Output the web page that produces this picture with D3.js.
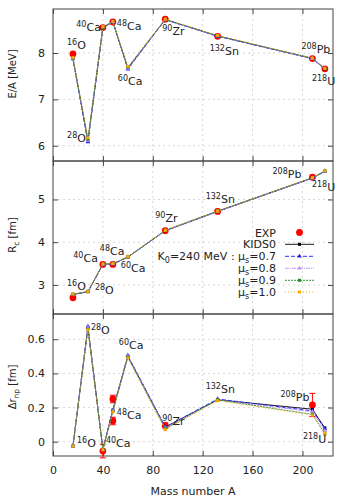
<!DOCTYPE html>
<html>
<head>
<meta charset="utf-8">
<script src="https://d3js.org/d3.v7.min.js"></script>
<style>
  body { margin: 0; background: #fff; }
  text { font-family: "DejaVu Sans", sans-serif; fill: #222; }
</style>
</head>
<body>
<div id="chart"></div>
<script>
// nuclei
var massA = [16, 28, 40, 48, 60, 90, 132, 208, 218];
var massLabel = ["16", "28", "40", "48", "60", "90", "132", "208", "218"];
var element = ["O", "O", "Ca", "Ca", "Ca", "Zr", "Sn", "Pb", "U"];

// binding energy per nucleon, E/A [MeV]
var eaExpA = [16, 40, 48, 90, 132, 208, 218];
var eaExp = [7.98, 8.55, 8.67, 8.73, 8.36, 7.88, 7.66];
var eaKids0 = [7.88, 6.10, 8.55, 8.67, 7.67, 8.72, 8.37, 7.88, 7.66];
var eaMu07 = [7.87, 6.08, 8.55, 8.67, 7.65, 8.72, 8.36, 7.88, 7.66];
var eaMu08 = [7.88, 6.11, 8.56, 8.67, 7.67, 8.72, 8.37, 7.88, 7.66];
var eaMu09 = [7.89, 6.14, 8.56, 8.68, 7.69, 8.73, 8.37, 7.89, 7.66];
var eaMu10 = [7.90, 6.17, 8.57, 8.68, 7.71, 8.73, 8.38, 7.89, 7.67];

// charge radius, Rc [fm]
var rcExpA = [16, 40, 48, 90, 132, 208];
var rcExp = [2.70, 3.48, 3.48, 4.27, 4.72, 5.52];
var rcKids0 = [2.78, 2.84, 3.48, 3.49, 3.65, 4.27, 4.72, 5.50, 5.66];
var rcMu07 = [2.77, 2.84, 3.48, 3.49, 3.65, 4.27, 4.72, 5.50, 5.66];
var rcMu08 = [2.78, 2.84, 3.48, 3.49, 3.65, 4.27, 4.72, 5.50, 5.66];
var rcMu09 = [2.78, 2.85, 3.49, 3.50, 3.66, 4.28, 4.73, 5.51, 5.67];
var rcMu10 = [2.79, 2.85, 3.49, 3.50, 3.66, 4.28, 4.73, 5.51, 5.67];

// neutron skin, delta r_np [fm]
var skinExpA = [40, 48, 48, 90, 208];
var skinExp = [-0.055, 0.25, 0.121, 0.095, 0.215];
var skinErr = [0.04, 0.022, 0.022, 0.015, 0.068];
var skinKids0 = [-0.025, 0.670, -0.045, 0.185, 0.500, 0.085, 0.245, 0.190, 0.080];
var skinMu07 = [-0.025, 0.675, -0.045, 0.185, 0.505, 0.085, 0.250, 0.180, 0.075];
var skinMu08 = [-0.025, 0.670, -0.045, 0.180, 0.500, 0.080, 0.245, 0.175, 0.065];
var skinMu09 = [-0.026, 0.660, -0.047, 0.178, 0.495, 0.075, 0.245, 0.160, 0.045];
var skinMu10 = [-0.026, 0.655, -0.048, 0.175, 0.490, 0.070, 0.240, 0.155, 0.050];

var xTicks = [0, 40, 80, 120, 160, 200];
var muLabels = ["0.7", "0.8", "0.9", "1.0"];

var styles = [
    {color: "#000000", dash: null, shape: d3.symbolSquare},
    {color: "#1a1aff", dash: "4,2", shape: d3.symbolTriangle},
    {color: "#c48cff", dash: "4,1,1,1", shape: d3.symbolTriangle},
    {color: "#1e8c1e", dash: "2,1", shape: d3.symbolSquare},
    {color: "#ffa500", dash: "1,2", shape: d3.symbolSquare}
];

var width = 355, height = 500;
var left = 53, right = 333;

var svg = d3.select("#chart").append("svg")
    .attr("width", width)
    .attr("height", height);

var x = d3.scaleLinear().domain([0, 224.5]).range([left, right]);

// label offsets from the KIDS0 point: [dx, dy, anchor]
var panels = [
    {
        top: 9, bottom: 161, domain: [5.67, 8.95], ticks: [6, 7, 8], fmt: d3.format("d"),
        series: [eaKids0, eaMu07, eaMu08, eaMu09, eaMu10],
        expA: eaExpA, exp: eaExp, err: null,
        ylabel: [["E/A [MeV]", 0]], ylabelY: 74,
        offsets: [[-6, -10, "start"], [-2, 1, "end"], [-2, 3, "end"], [4, 8, "start"], [-10, 17, "start"],
                  [-3, 15, "start"], [-8, 19, "start"], [-11, -6, "start"], [-13, 16, "start"]]
    },
    {
        top: 161, bottom: 314, domain: [2.32, 5.9], ticks: [3, 4, 5], fmt: d3.format("d"),
        series: [rcKids0, rcMu07, rcMu08, rcMu09, rcMu10],
        expA: rcExpA, exp: rcExp, err: null,
        ylabel: [["R", 0], ["c", 1], [" [fm]", 0]], ylabelY: 235,
        offsets: [[-6, -4, "start"], [7, 2, "start"], [-5, -2, "end"], [-13, -9, "start"], [-7, 15, "start"],
                  [-10, -9, "start"], [-12, -8, "start"], [-11, 0, "end"], [-13, 20, "start"]]
    },
    {
        top: 314, bottom: 456, domain: [-0.084, 0.748], ticks: [0, 0.2, 0.4, 0.6], fmt: function(d) { return d === 0 ? "0" : d3.format(".1f")(d); },
        series: [skinKids0, skinMu07, skinMu08, skinMu09, skinMu10],
        expA: skinExpA, exp: skinExp, err: skinErr,
        ylabel: [["\u0394r", 0], ["np", 1], [" [fm]", 0]], ylabelY: 387,
        offsets: [[4, 1, "start"], [3, 7, "start"], [3, -2, "start"], [4, 9, "start"], [-9, -7, "start"],
                  [-3, -2, "start"], [-12, -7, "start"], [-3, -8, "end"], [-22, 15, "start"]]
    }
];

function addScripted(sel, parts, small) {
    // parts: [text, mode] with mode 0 normal, 1 subscript, 2 superscript
    var shift = 0;
    parts.forEach(function(p) {
        var target = p[1] === 1 ? 3 : (p[1] === 2 ? -4 : 0);
        sel.append("tspan")
            .attr("dy", target - shift)
            .style("font-size", p[1] ? (small || "8px") : null)
            .text(p[0]);
        shift = target;
    });
}

panels.forEach(function(p, pi) {
    var y = d3.scaleLinear().domain(p.domain).range([p.bottom, p.top]);
    var g = svg.append("g");

    var clipId = "clip" + pi;
    svg.append("clipPath").attr("id", clipId)
        .append("rect")
        .attr("x", left).attr("y", p.top)
        .attr("width", right - left).attr("height", p.bottom - p.top);

    // grid
    g.selectAll(".vgrid").data(xTicks.slice(1)).enter().append("line")
        .attr("x1", function(d) { return x(d); }).attr("x2", function(d) { return x(d); })
        .attr("y1", p.top).attr("y2", p.bottom)
        .attr("stroke", "#d8d8d8").attr("stroke-dasharray", "2,3");
    g.selectAll(".hgrid").data(p.ticks).enter().append("line")
        .attr("x1", left).attr("x2", right)
        .attr("y1", function(d) { return y(d); }).attr("y2", function(d) { return y(d); })
        .attr("stroke", "#d8d8d8").attr("stroke-dasharray", "2,3");

    // axes with inward ticks on all sides
    var axL = d3.axisLeft(y).tickValues(p.ticks).tickSize(-5).tickPadding(8).tickFormat(p.fmt);
    var axR = d3.axisRight(y).tickValues(p.ticks).tickSize(-5).tickFormat("");
    var axT = d3.axisTop(x).tickValues(xTicks).tickSize(-5).tickFormat("");
    var axB = d3.axisBottom(x).tickValues(xTicks).tickSize(-5).tickPadding(10)
        .tickFormat(pi === 2 ? d3.format("d") : "");
    [[axL, "translate(" + left + ",0)"], [axR, "translate(" + right + ",0)"],
     [axT, "translate(0," + p.top + ")"], [axB, "translate(0," + p.bottom + ")"]].forEach(function(a) {
        var ag = g.append("g").attr("transform", a[1]).call(a[0]);
        ag.select(".domain").remove();
        ag.selectAll("line").attr("stroke", "#444");
        ag.selectAll("text").style("font-family", "DejaVu Sans").style("font-size", "11px").attr("fill", "#222");
    });

    g.append("rect")
        .attr("x", left).attr("y", p.top)
        .attr("width", right - left).attr("height", p.bottom - p.top)
        .attr("fill", "none").attr("stroke", "#444");

    // y label
    var yl = g.append("text")
        .attr("transform", "translate(16," + p.ylabelY + ") rotate(-90)")
        .attr("text-anchor", "middle")
        .style("font-size", "10px");
    addScripted(yl, p.ylabel, "7.5px");

    // experimental points
    var ex = g.append("g");
    if (p.err) {
        p.expA.forEach(function(a, i) {
            var y0 = y(p.exp[i] - p.err[i]), y1 = y(p.exp[i] + p.err[i]);
            ex.append("line").attr("x1", x(a)).attr("x2", x(a)).attr("y1", y0).attr("y2", y1)
                .attr("stroke", "red");
            [y0, y1].forEach(function(yy) {
                if (yy <= p.bottom + 4) {
                    ex.append("line").attr("x1", x(a) - 3).attr("x2", x(a) + 3)
                        .attr("y1", yy).attr("y2", yy).attr("stroke", "red");
                }
            });
        });
    }
    ex.selectAll("circle").data(p.exp).enter().append("circle")
        .attr("cx", function(d, i) { return x(p.expA[i]); })
        .attr("cy", function(d) { return y(d); })
        .attr("r", 3.4)
        .attr("fill", "red");

    // model series
    var line = d3.line()
        .x(function(d, i) { return x(massA[i]); })
        .y(function(d) { return y(d); });
    var mg = g.append("g").attr("clip-path", "url(#" + clipId + ")");
    p.series.forEach(function(s, si) {
        var st = styles[si];
        mg.append("path").datum(s)
            .attr("d", line)
            .attr("fill", "none")
            .attr("stroke", st.color)
            .attr("stroke-width", 0.9)
            .attr("stroke-dasharray", st.dash);
        mg.selectAll(".m" + si).data(s).enter().append("path")
            .attr("transform", function(d, i) { return "translate(" + x(massA[i]) + "," + y(d) + ")"; })
            .attr("d", d3.symbol().type(st.shape).size(9))
            .attr("fill", st.color);
    });

    // nucleus labels
    massA.forEach(function(a, i) {
        var o = p.offsets[i];
        var t = g.append("text")
            .attr("x", x(a) + o[0])
            .attr("y", y(p.series[0][i]) + o[1])
            .attr("text-anchor", o[2])
            .style("font-size", "11px");
        addScripted(t, [[massLabel[i], 2], [element[i], 0]]);
    });
});

// legend (middle panel)
var legX = 276, sx0 = 285, sx1 = 314;
var legRows = [232.5, 244.3, 256.3, 268.3, 280.3, 292];
var lg = svg.append("g");
lg.append("text").attr("x", legX).attr("y", legRows[0] + 4).attr("text-anchor", "end")
    .style("font-size", "11px").text("EXP");
lg.append("circle").attr("cx", (sx0 + sx1) / 2).attr("cy", legRows[0]).attr("r", 3.4).attr("fill", "red");

var legLabels = [[["KIDS0", 0]]];
muLabels.forEach(function(m, i) {
    var parts = i === 0 ? [["K", 0], ["0", 1], ["=240 MeV : \u03bc", 0], ["s", 1], ["=" + m, 0]]
                        : [["\u03bc", 0], ["s", 1], ["=" + m, 0]];
    legLabels.push(parts);
});
legLabels.forEach(function(parts, i) {
    var yy = legRows[i + 1];
    var st = styles[i];
    var t = lg.append("text").attr("x", legX).attr("y", yy + 4).attr("text-anchor", "end")
        .style("font-size", "11px");
    addScripted(t, parts);
    lg.append("line").attr("x1", sx0).attr("x2", sx1).attr("y1", yy).attr("y2", yy)
        .attr("stroke", st.color).attr("stroke-width", 0.9).attr("stroke-dasharray", st.dash);
    lg.append("path")
        .attr("transform", "translate(" + ((sx0 + sx1) / 2) + "," + yy + ")")
        .attr("d", d3.symbol().type(st.shape).size(9))
        .attr("fill", st.color);
});

// x axis title
svg.append("text")
    .attr("x", (left + right) / 2)
    .attr("y", 495)
    .attr("text-anchor", "middle")
    .style("font-size", "11px")
    .text("Mass number A");
</script>
</body>
</html>
